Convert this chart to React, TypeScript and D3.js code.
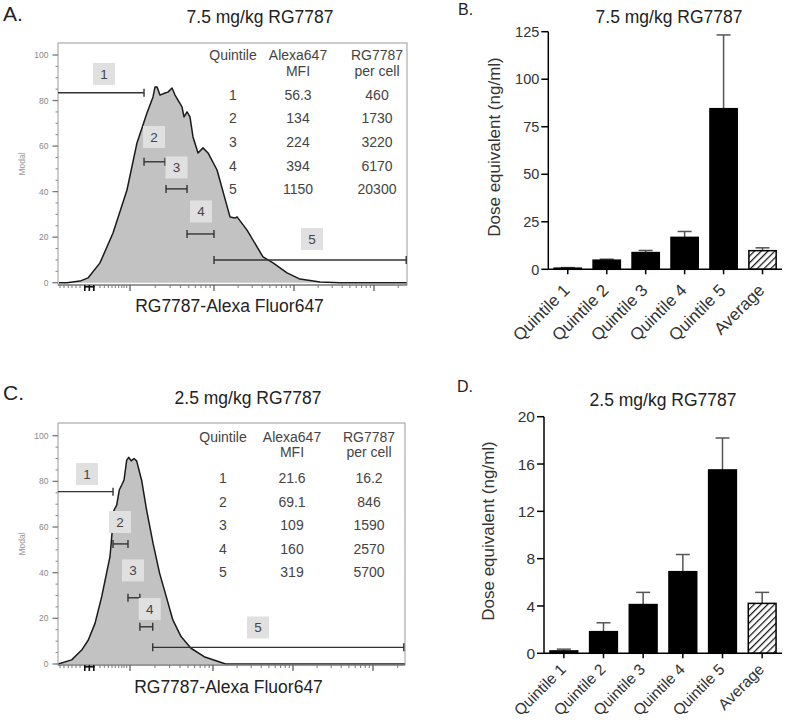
import React from "react";
import * as d3 from "d3";

const FONT = "'Liberation Sans', Arial, Helvetica, sans-serif";

// ---------- Histogram data (x in display decades, y in % of max) ----------
const histA: [number, number][] = [
  [1.014, 0], [1.125, 0], [1.306, 0.7], [1.417, 2.1], [1.583, 8.7], [1.764, 21.8],
  [1.958, 40.7], [2.083, 61.4], [2.202, 74.5], [2.274, 81.6], [2.298, 86], [2.321, 86],
  [2.357, 82.4], [2.417, 83.3], [2.452, 83.7], [2.5, 85.5], [2.536, 82.4], [2.619, 77.2],
  [2.643, 72.8], [2.679, 75], [2.714, 72.8], [2.75, 64], [2.81, 57], [2.869, 59.2],
  [2.929, 57], [3.038, 49.5], [3.2, 28.9], [3.263, 28.4], [3.288, 28.9], [3.413, 23.1],
  [3.613, 11.3], [3.738, 8.7], [3.913, 4.3], [4.075, 1.6], [4.325, 0.3], [4.575, 0],
  [4.913, 0], [5.41, 0],
];
const histC: [number, number][] = [
  [1.004, 0], [1.19, 1.8], [1.329, 6.1], [1.421, 10.5], [1.514, 17.8], [1.607, 29.5],
  [1.722, 47], [1.778, 67.4], [1.815, 69.6], [1.851, 76.2], [1.885, 78.4], [1.917, 80.6],
  [1.954, 89.3], [1.982, 90.5], [2.015, 89], [2.048, 90], [2.08, 89], [2.14, 80.5],
  [2.2, 67.4], [2.278, 52.8], [2.357, 39.7], [2.437, 29.5], [2.516, 19.3], [2.615, 12],
  [2.735, 6.9], [2.893, 3.2], [3.158, 0], [5.39, 0],
];

// Gates
const gatesA_x0 = [1, 2.167, 2.429, 2.679, 3.0];
const gatesA_x1 = [2.167, 2.417, 2.679, 3.0, 5.4];
const gatesA_y = [83.4, 53.1, 41.2, 21.4, 10];
const gateLabelsA_x = [1.639, 2.286, 2.554, 2.845, 4.225];
const gateLabelsA_y = [91.7, 64, 50.6, 31.3, 19.2];

const gatesC_x0 = [1, 1.764, 1.972, 2.119, 2.274];
const gatesC_x1 = [1.764, 1.972, 2.119, 2.274, 5.375];
const gatesC_y = [75.5, 52.6, 29, 16.3, 7.3];
const gateLabelsC_x = [1.403, 1.861, 2.036, 2.238, 3.5625];
const gateLabelsC_y = [83.2, 62.2, 41, 24.1, 16];

// Tables
const quintiles = ["1", "2", "3", "4", "5"];
const mfiA = ["56.3", "134", "224", "394", "1150"];
const perCellA = ["460", "1730", "3220", "6170", "20300"];
const mfiC = ["21.6", "69.1", "109", "160", "319"];
const perCellC = ["16.2", "846", "1590", "2570", "5700"];

// Histogram axis ticks
const histYMajor = [0, 20, 40, 60, 80, 100];
const histYMinor = [5, 10, 15, 25, 30, 35, 45, 50, 55, 65, 70, 75, 85, 90, 95];
const histXMajor = [2, 3, 4, 5];
const histXLowMinor = [1.028, 1.083, 1.143, 1.194, 1.25, 1.306, 1.583, 1.643, 1.699, 1.75, 1.796, 1.843, 1.885, 1.917, 1.954];
const histXZero = [1.372, 1.435, 1.497];

// ---------- Bar chart data ----------
const barCats = ["Quintile 1", "Quintile 2", "Quintile 3", "Quintile 4", "Quintile 5", "Average"];
const doseB = [0.6, 4.8, 8.8, 16.8, 84.5, 9.8];
const errB = [0.3, 0.5, 1.1, 3.1, 38.8, 1.5];
const ticksB = [0, 25, 50, 75, 100, 125];
const doseD = [0.2, 1.83, 4.12, 6.9, 15.5, 4.22];
const errD = [0.15, 0.75, 1.03, 1.45, 2.7, 0.93];
const ticksD = [0, 4, 8, 12, 16, 20];

type HistProps = {
  hist: [number, number][];
  gx0: number[]; gx1: number[]; gy: number[]; lx: number[]; ly: number[];
  mfi: string[]; perCell: string[];
  left: number; right: number; top: number; bottom: number;
  xRange: number[]; xDomain: number[]; yRange: [number, number];
  tableX: number[]; headY: number[]; rowY: number; rowStep: number;
  title: string; titleX: number; titleY: number;
  letter: string; letterY: number; xLabelY: number;
};

function HistPanel(p: HistProps) {
  const x = d3.scaleLinear().domain(p.xDomain).range(p.xRange);
  const y = d3.scaleLinear().domain([0, 100]).range(p.yRange);
  const area = d3.area<[number, number]>().x(d => x(d[0])).y0(y(0)).y1(d => y(d[1]));
  const line = d3.line<[number, number]>().x(d => x(d[0])).y(d => y(d[1]));
  const xMax = p.xDomain[p.xDomain.length - 1];
  const decMinor: number[] = [];
  histXMajor.forEach(dec => {
    d3.range(2, 10).forEach(k => {
      const v = dec + Math.log10(k);
      if (v < xMax) decMinor.push(v);
    });
  });
  const b = p.bottom;
  const tc = "#444";
  return (
    <g>
      <text x={3} y={p.letterY} fontFamily={FONT} fontSize={21} fill="#222">{p.letter}</text>
      <text x={p.titleX} y={p.titleY} textAnchor="middle" fontFamily={FONT} fontSize={17.5} fill="#222">{p.title}</text>
      <path d={area(p.hist) || ""} fill="#c2c2c2" />
      <path d={line(p.hist) || ""} fill="none" stroke="#1a1a1a" strokeWidth={1.5} strokeLinejoin="round" />
      <rect x={p.left} y={p.top} width={p.right - p.left} height={p.bottom - p.top} fill="none" stroke="#9a9a9a" strokeWidth={1} />
      <line x1={p.left} x2={p.right} y1={b} y2={b} stroke="#666" strokeWidth={1.2} />
      {/* y ticks */}
      {histYMajor.map(v => (
        <g key={"ym" + v}>
          <line x1={p.left - 5.5} x2={p.left} y1={y(v)} y2={y(v)} stroke="#777" strokeWidth={1.3} />
          <text x={p.left - 9.5} y={y(v) + 3} textAnchor="end" fontFamily={FONT} fontSize={8.5} fill="#888">{v}</text>
        </g>
      ))}
      {histYMinor.map(v => (
        <line key={"yn" + v} x1={p.left - 2.5} x2={p.left} y1={y(v)} y2={y(v)} stroke="#888" strokeWidth={1} />
      ))}
      <text transform={`translate(${p.left - 33},${(p.top + p.bottom) / 2}) rotate(-90)`} textAnchor="middle" fontFamily={FONT} fontSize={8.5} fill="#999">Modal</text>
      {/* x ticks */}
      {histXMajor.map(v => (
        <line key={"xm" + v} x1={x(v)} x2={x(v)} y1={b} y2={b + 6} stroke="#555" strokeWidth={1.2} />
      ))}
      {decMinor.concat(histXLowMinor).map((v, i) => (
        <line key={"xn" + i} x1={x(v)} x2={x(v)} y1={b} y2={b + 3} stroke="#777" strokeWidth={1} />
      ))}
      <rect x={x(histXZero[0]) - 0.8} y={b + 1} width={x(histXZero[2]) - x(histXZero[0]) + 1.6} height={1.6} fill="#111" />
      {histXZero.map((v, i) => (
        <line key={"xz" + i} x1={x(v)} x2={x(v)} y1={b} y2={b + 6} stroke="#111" strokeWidth={1.6} />
      ))}
      <text x={(p.left + p.right) / 2 - 3} y={p.xLabelY} textAnchor="middle" fontFamily={FONT} fontSize={17.5} fill="#222">RG7787-Alexa Fluor647</text>
      {/* gates */}
      {p.gx0.map((g, i) => {
        const gy = y(p.gy[i]);
        return (
          <g key={"g" + i} stroke="#333" strokeWidth={1.4}>
            <line x1={x(g)} x2={x(p.gx1[i])} y1={gy} y2={gy} />
            {i > 0 && <line x1={x(g)} x2={x(g)} y1={gy - 4} y2={gy + 4} />}
            <line x1={x(p.gx1[i])} x2={x(p.gx1[i])} y1={gy - 4} y2={gy + 4} />
          </g>
        );
      })}
      {p.lx.map((lv, i) => (
        <g key={"gl" + i}>
          <rect x={x(lv) - 11} y={y(p.ly[i]) - 11} width={22} height={22} fill="#e0e0e0" />
          <text x={x(lv)} y={y(p.ly[i]) + 4.8} textAnchor="middle" fontFamily={FONT} fontSize={13.5} fill="#444">{quintiles[i]}</text>
        </g>
      ))}
      {/* table */}
      <g fontFamily={FONT} fontSize={14} fill={tc} textAnchor="middle">
        <text x={p.tableX[0]} y={p.headY[0]}>Quintile</text>
        <text x={p.tableX[1]} y={p.headY[0]}>Alexa647</text>
        <text x={p.tableX[1]} y={p.headY[1]}>MFI</text>
        <text x={p.tableX[2]} y={p.headY[0]}>RG7787</text>
        <text x={p.tableX[2]} y={p.headY[1]}>per cell</text>
        {quintiles.map((q, i) => (
          <g key={"row" + i}>
            <text x={p.tableX[0]} y={p.rowY + i * p.rowStep}>{q}</text>
            <text x={p.tableX[1]} y={p.rowY + i * p.rowStep}>{p.mfi[i]}</text>
            <text x={p.tableX[2]} y={p.rowY + i * p.rowStep}>{p.perCell[i]}</text>
          </g>
        ))}
      </g>
    </g>
  );
}

type BarProps = {
  values: number[]; errs: number[]; ticks: number[];
  axisLeft: number; axisRight: number; y0: number; yTop: number;
  title: string; titleX: number; titleY: number;
  letter: string; letterX: number; letterY: number;
  yLabelX: number; yLabelY: number; tickFont: number; hatchId: string;
  catFont: number; catDx: number; catDy: number;
};

function BarPanel(p: BarProps) {
  const x = d3.scaleBand<string>().domain(barCats).range([p.axisLeft, p.axisRight]).paddingInner(0.3).paddingOuter(0.15);
  const yMax = p.ticks[p.ticks.length - 1];
  const y = d3.scaleLinear().domain([0, yMax]).range([p.y0, p.yTop]);
  const bw = x.bandwidth();
  return (
    <g>
      <defs>
        <pattern id={p.hatchId} patternUnits="userSpaceOnUse" width={4.8} height={4.8} patternTransform="rotate(45)">
          <rect width={4.8} height={4.8} fill="#fff" />
          <line x1={0.6} y1={0} x2={0.6} y2={4.8} stroke="#111" strokeWidth={1.25} />
        </pattern>
      </defs>
      <text x={p.letterX} y={p.letterY} fontFamily={FONT} fontSize={16} fill="#222">{p.letter}</text>
      <text x={p.titleX} y={p.titleY} textAnchor="middle" fontFamily={FONT} fontSize={17.5} fill="#222">{p.title}</text>
      {/* error bars */}
      {p.values.map((v, i) => {
        const cx = (x(barCats[i]) as number) + bw / 2;
        return (
          <g key={"e" + i} stroke="#555" strokeWidth={1.5}>
            <line x1={cx} x2={cx} y1={y(v)} y2={y(v + p.errs[i])} />
            <line x1={cx - 7} x2={cx + 7} y1={y(v + p.errs[i])} y2={y(v + p.errs[i])} />
          </g>
        );
      })}
      {/* bars */}
      {p.values.map((v, i) => (
        <rect key={"b" + i} x={x(barCats[i])} y={y(v)} width={bw} height={y(0) - y(v)}
          fill={i === barCats.length - 1 ? `url(#${p.hatchId})` : "#000"} stroke="#000" strokeWidth={1.5} />
      ))}
      {/* y axis */}
      <line x1={p.axisLeft} x2={p.axisLeft} y1={y(0)} y2={y(yMax)} stroke="#000" strokeWidth={1.5} />
      {p.ticks.map(t => (
        <g key={"t" + t}>
          <line x1={p.axisLeft - 7} x2={p.axisLeft} y1={y(t)} y2={y(t)} stroke="#000" strokeWidth={1.5} />
          <text x={p.axisLeft - 9} y={y(t) + p.tickFont * 0.36} textAnchor="end" fontFamily={FONT} fontSize={p.tickFont} fill="#333">{t}</text>
        </g>
      ))}
      {/* x axis */}
      <line x1={p.axisLeft} x2={p.axisRight} y1={y(0)} y2={y(0)} stroke="#000" strokeWidth={1.5} />
      {barCats.map(c => {
        const cx = (x(c) as number) + bw / 2;
        return (
          <g key={"x" + c}>
            <line x1={cx} x2={cx} y1={y(0)} y2={y(0) + 5} stroke="#000" strokeWidth={1.5} />
            <text transform={`translate(${cx + p.catDx},${y(0) + p.catDy}) rotate(-45)`} textAnchor="end" fontFamily={FONT} fontSize={p.catFont} fill="#333">{c}</text>
          </g>
        );
      })}
      <text transform={`translate(${p.yLabelX},${p.yLabelY}) rotate(-90)`} textAnchor="middle" fontFamily={FONT} fontSize={17} fill="#333">Dose equivalent (ng/ml)</text>
    </g>
  );
}

export default function App() {
  return (
    <svg width={787} height={722} style={{ position: "absolute", left: 0, top: 0, background: "#fff" }}>
      <rect width={787} height={722} fill="#fff" />
      <HistPanel
        hist={histA} gx0={gatesA_x0} gx1={gatesA_x1} gy={gatesA_y} lx={gateLabelsA_x} ly={gateLabelsA_y}
        mfi={mfiA} perCell={perCellA}
        left={58} right={407} top={43} bottom={285}
        xDomain={[1, 2, 3, 4, 5, 5.41]} xRange={[58, 130, 214, 294, 374, 407]} yRange={[282.7, 55]}
        tableX={[233, 298, 377]} headY={[59.5, 76]} rowY={99.5} rowStep={23.7}
        title="7.5 mg/kg RG7787" titleX={260} titleY={23.3}
        letter="A." letterY={20.7} xLabelY={312}
      />
      <HistPanel
        hist={histC} gx0={gatesC_x0} gx1={gatesC_x1} gy={gatesC_y} lx={gateLabelsC_x} ly={gateLabelsC_y}
        mfi={mfiC} perCell={perCellC}
        left={58} right={405} top={423} bottom={665}
        xDomain={[1, 2, 3, 4, 5, 5.39]} xRange={[58, 130, 213, 293, 373, 405]} yRange={[664, 435.7]}
        tableX={[223, 292, 369]} headY={[441.7, 457.3]} rowY={483.3} rowStep={23.4}
        title="2.5 mg/kg RG7787" titleX={248} titleY={404.3}
        letter="C." letterY={400} xLabelY={693}
      />
      <BarPanel
        values={doseB} errs={errB} ticks={ticksB}
        axisLeft={548.3} axisRight={782} y0={269.3} yTop={31.7}
        title="7.5 mg/kg RG7787" titleX={669} titleY={23.3}
        letter="B." letterX={458} letterY={15}
        yLabelX={500} yLabelY={147} tickFont={14.5} hatchId="hatchB"
        catFont={17} catDx={3} catDy={22}
      />
      <BarPanel
        values={doseD} errs={errD} ticks={ticksD}
        axisLeft={544} axisRight={782} y0={653.3} yTop={416.7}
        title="2.5 mg/kg RG7787" titleX={663} titleY={406}
        letter="D." letterX={457} letterY={391.7}
        yLabelX={494} yLabelY={531} tickFont={15.5} hatchId="hatchD"
        catFont={15.5} catDx={3} catDy={17}
      />
    </svg>
  );
}
